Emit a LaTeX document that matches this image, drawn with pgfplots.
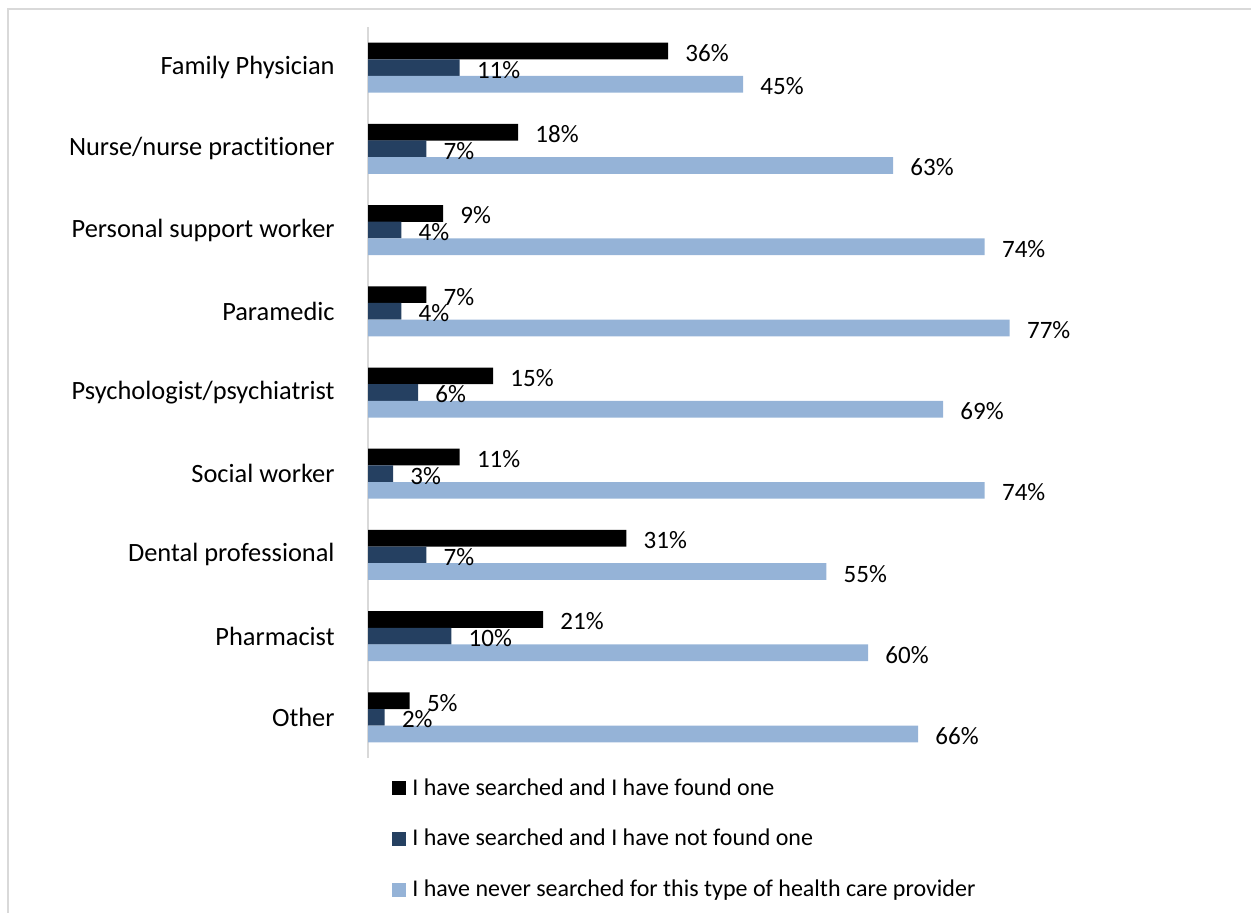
\documentclass[border=0pt]{standalone}
\usepackage{pgfplots}
\pgfplotsset{compat=1.18}
\usepackage{fontspec}
\setmainfont{Carlito}[Ligatures=NoCommon]
\definecolor{cblack}{RGB}{0,0,0}
\definecolor{cnavy}{RGB}{37,64,97}
\definecolor{clight}{RGB}{149,179,215}
\definecolor{cframe}{RGB}{217,217,217}
\begin{document}
\begin{tikzpicture}
\useasboundingbox (0,0) rectangle (625.5pt,456pt);
\clip (0,0) rectangle (625.5pt,456pt);
\draw[cframe, line width=1pt] (4pt,-20pt) -- (4pt,451.5pt) -- (640pt,451.5pt);
\begin{axis}[
  at={(184pt,442.5pt)}, anchor=north west,
  width=416.67pt, height=365.5pt, scale only axis,
  xmin=0, xmax=100, ymin=-0.5, ymax=8.5,
  y dir=reverse,
  axis x line=none,
  axis y line*=left,
  y axis line style={cframe, line width=1pt, -},
  ytick={0,...,8},
  yticklabels={Family Physician, Nurse/nurse practitioner, Personal support worker, Paramedic, Psychologist/psychiatrist, Social worker, Dental professional, Pharmacist, Other},
  major tick length=0pt,
  yticklabel style={font=\fontsize{13.2pt}{15pt}\selectfont, inner sep=0pt, xshift=-16.5pt},
  every node near coord/.append style={font=\fontsize{12.5pt}{15pt}\selectfont, anchor=west, inner sep=0pt, xshift=8.5pt, yshift=-1pt},
  nodes near coords={\pgfmathprintnumber[assume math mode=true]{\pgfplotspointmeta}\%},
  point meta=x,
  legend image code/.code={\fill[#1] (0pt,-3.5pt) rectangle (7pt,3.5pt);},
  legend cell align=left,
  legend style={draw=none, fill=none, at={(axis description cs:0,0)}, anchor=north west, xshift=12pt, yshift=-10pt, row sep=15.5pt, column sep=3pt, inner sep=0pt, font=\fontsize{12pt}{14pt}\selectfont, nodes={inner sep=0pt}},
]
\addplot[xbar, bar width=8.35pt, bar shift=0pt, fill=cblack, draw=none] coordinates {
(36,-0.205) (18,0.795) (9,1.795) (7,2.795) (15,3.795) (11,4.795) (31,5.795) (21,6.795) (5,7.795)};
\addlegendentry{I have searched and I have found one}
\addplot[xbar, bar width=8.35pt, bar shift=0pt, fill=cnavy, draw=none] coordinates {
(11,0) (7,1) (4,2) (4,3) (6,4) (3,5) (7,6) (10,7) (2,8)};
\addlegendentry{I have searched and I have not found one}
\addplot[xbar, bar width=8.35pt, bar shift=0pt, fill=clight, draw=none] coordinates {
(45,0.205) (63,1.205) (74,2.205) (77,3.205) (69,4.205) (74,5.205) (55,6.205) (60,7.205) (66,8.205)};
\addlegendentry{I have never searched for this type of health care provider}
\end{axis}
\end{tikzpicture}
\end{document}
